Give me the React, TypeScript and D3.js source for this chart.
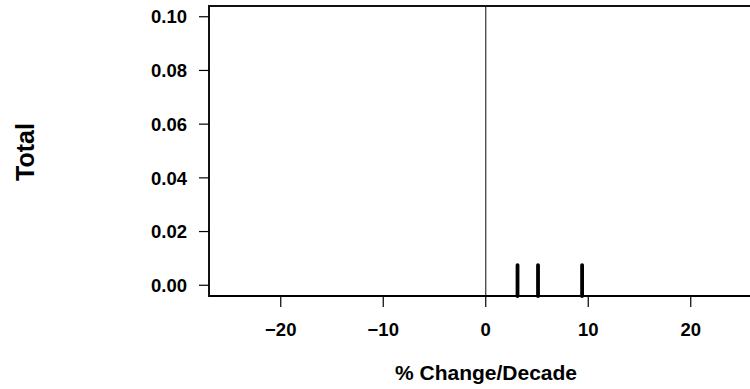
import React from "react";
import * as d3 from "d3";

const xTicks = [-20, -10, 0, 10, 20];
const xTickLabels = ["\u221220", "\u221210", "0", "10", "20"];
const yTicks = [0, 0.02, 0.04, 0.06, 0.08, 0.1];
const yTickLabels = ["0.00", "0.02", "0.04", "0.06", "0.08", "0.10"];
const rugValues = [3.1, 5.1, 9.4];
const rugTop = 0.0075;
const xLabel = "% Change/Decade";
const yLabel = "Total";

const W = 750;
const H = 389;
const FONT = "'Liberation Sans', Arial, Helvetica, sans-serif";

export default function App() {
  const x = d3.scaleLinear().domain([-27, 27]).range([209, 762.5]);
  const y = d3.scaleLinear().domain([-0.004, 0.104]).range([296, 6]);
  const [x0] = x.range();
  const [yb, yt] = y.range();
  return (
    <svg
      width={W}
      height={H}
      style={{ position: "absolute", left: 0, top: 0, background: "#fff" }}
      fontFamily={FONT}
      fontWeight="bold"
    >
      <rect x={0} y={0} width={W} height={H} fill="#fff" />
      {/* zero reference line */}
      <line x1={x(0)} x2={x(0)} y1={yt} y2={yb} stroke="#333" strokeWidth={1.2} />
      {/* rug marks */}
      {rugValues.map((v, i) => (
        <line
          key={i}
          x1={x(v)}
          x2={x(v)}
          y1={y(rugTop)}
          y2={yb}
          stroke="#000"
          strokeWidth={3.8}
          strokeLinecap="round"
        />
      ))}
      {/* frame */}
      <line x1={x0} x2={W + 5} y1={yt} y2={yt} stroke="#111" strokeWidth={2} />
      <line x1={x0} x2={W + 5} y1={yb} y2={yb} stroke="#000" strokeWidth={2.2} />
      <line x1={x0} x2={x0} y1={yt - 1} y2={yb + 1} stroke="#111" strokeWidth={2} />
      {/* x ticks */}
      {xTicks.map((t, i) => (
        <g key={t}>
          <line x1={x(t)} x2={x(t)} y1={yb} y2={yb + 11} stroke="#000" strokeWidth={1.2} />
          <text x={x(t)} y={336} textAnchor="middle" fontSize={18.5} fill="#000">
            {xTickLabels[i]}
          </text>
        </g>
      ))}
      {/* y ticks */}
      {yTicks.map((t, i) => (
        <g key={t}>
          <line x1={x0} x2={x0 - 10} y1={y(t)} y2={y(t)} stroke="#000" strokeWidth={1.2} />
          <text
            x={187}
            y={y(t)}
            dy="0.36em"
            textAnchor="end"
            fontSize={18.5}
            fill="#000"
          >
            {yTickLabels[i]}
          </text>
        </g>
      ))}
      <text x={486} y={380} textAnchor="middle" fontSize={21} fill="#000">
        {xLabel}
      </text>
      <text
        transform={`translate(34,152) rotate(-90)`}
        textAnchor="middle"
        fontSize={25}
        fill="#000"
      >
        {yLabel}
      </text>
    </svg>
  );
}
